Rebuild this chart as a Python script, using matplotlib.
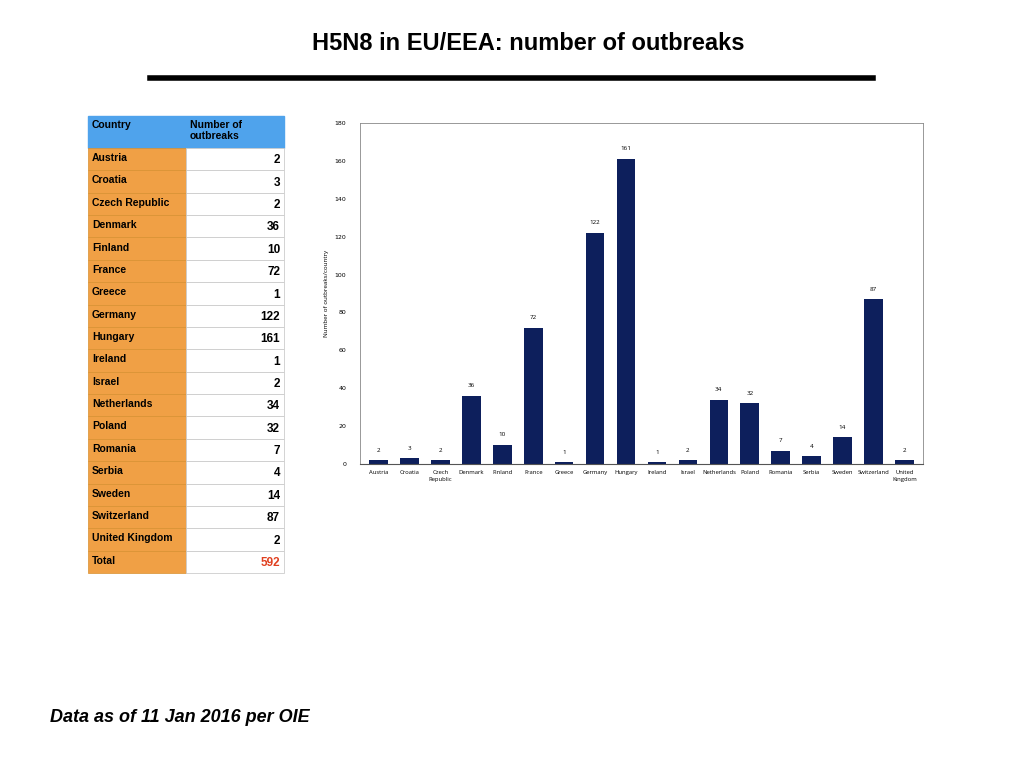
import matplotlib.pyplot as plt
from matplotlib.patches import Rectangle

countries = ["Austria", "Croatia", "Czech Republic", "Denmark", "Finland", "France",
             "Greece", "Germany", "Hungary", "Ireland", "Israel", "Netherlands",
             "Poland", "Romania", "Serbia", "Sweden", "Switzerland", "United Kingdom"]
outbreaks = [2, 3, 2, 36, 10, 72, 1, 122, 161, 1, 2, 34, 32, 7, 4, 14, 87, 2]
tick_labels = ["Austria", "Croatia", "Czech\nRepublic", "Denmark", "Finland", "France",
               "Greece", "Germany", "Hungary", "Ireland", "Israel", "Netherlands",
               "Poland", "Romania", "Serbia", "Sweden", "Switzerland", "United\nKingdom"]

W, H = 1024, 768
fig = plt.figure(figsize=(W / 100, H / 100), dpi=100)
fig.patch.set_facecolor("white")

def fx(px):
    return px / W

def fy(py):
    return 1 - py / H

fig.text(fx(528), fy(43), "H5N8 in EU/EEA: number of outbreaks", ha="center", va="center",
         fontsize=17, fontweight="bold", family="Liberation Sans")
fig.add_artist(plt.Line2D([fx(150), fx(873)], [fy(78), fy(78)], color="black", lw=4))
fig.text(fx(50), fy(718), "Data as of 11 Jan 2016 per OIE", ha="left", va="center",
         fontsize=13, fontweight="bold", style="italic", family="Liberation Sans")

# table
tab = fig.add_axes([0, 0, 1, 1])
tab.set_xlim(0, W)
tab.set_ylim(H, 0)
tab.axis("off")
x0, x1, x2 = 88, 186, 284
hy0, hy1 = 116, 148
rh = (573 - 148) / 19
orange = "#F0A045"
blue = "#4FA3EC"
tab.add_patch(Rectangle((x0, hy0), x2 - x0, hy1 - hy0, color=blue))
tab.text(x0 + 4, hy0 + 4, "Country", va="top", fontsize=7.5, fontweight="bold", family="Liberation Sans")
tab.text(x1 + 4, hy0 + 4, "Number of\noutbreaks", va="top", fontsize=7.5, fontweight="bold",
         family="Liberation Sans", linespacing=1.1)
names = countries + ["Total"]
vals = outbreaks + [sum(outbreaks)]
for i, (n, v) in enumerate(zip(names, vals)):
    y = hy1 + i * rh
    tab.add_patch(Rectangle((x0, y), x1 - x0, rh, facecolor=orange, edgecolor="#D89030", lw=0.5))
    tab.add_patch(Rectangle((x1, y), x2 - x1, rh, facecolor="white", edgecolor="#CCCCCC", lw=0.6))
    tab.text(x0 + 4, y + rh * 0.45, n, va="center", fontsize=7.5, fontweight="bold",
             family="Liberation Sans")
    tab.text(x2 - 4, y + rh * 0.55, str(v), va="center", ha="right", fontsize=8.5,
             fontweight="bold", family="Liberation Sans",
             color="#E04020" if n == "Total" else "black")

# bar chart
ax = fig.add_axes([fx(360), fy(464), fx(923 - 360), (464 - 123) / H])
xs = range(len(countries))
ax.bar(xs, outbreaks, width=0.6, color="#0D1F5C")
for x, v in zip(xs, outbreaks):
    ax.text(x, v + 4, str(v), ha="center", va="bottom", fontsize=4.5, family="Open Sans")
ax.set_xlim(-0.6, len(countries) - 0.4)
ax.set_ylim(0, 180)
ax.set_yticks(range(0, 181, 20))
ax.set_xticks(list(xs))
ax.set_xticklabels(tick_labels, fontsize=4.2, family="Open Sans", linespacing=1.5)
ax.tick_params(axis="y", labelsize=4.5, length=0, pad=10)
ax.tick_params(axis="x", length=0, pad=4)
ax.set_ylabel("Number of outbreaks/country", fontsize=4.5, family="Open Sans")
for s in ["left", "top", "right"]:
    ax.spines[s].set_color("#888888")
    ax.spines[s].set_linewidth(0.6)
ax.spines["bottom"].set_color("#555555")

fig.savefig("out.png", dpi=100)
